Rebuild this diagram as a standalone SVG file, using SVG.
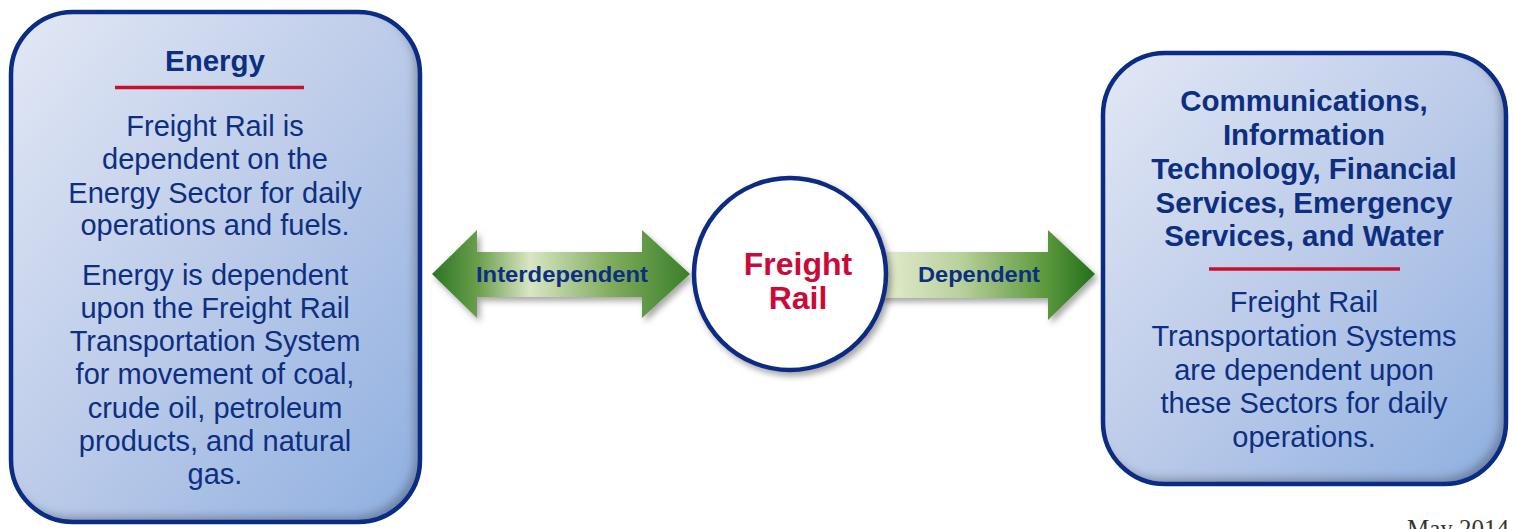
<svg xmlns="http://www.w3.org/2000/svg" width="1514" height="529" viewBox="0 0 1514 529">
<defs>
<linearGradient id="boxFill" x1="0" y1="0" x2="1" y2="1">
<stop offset="0" stop-color="#e2e8f5"/>
<stop offset="0.5" stop-color="#bccbe9"/>
<stop offset="1" stop-color="#8eafe0"/>
</linearGradient>
<linearGradient id="gLeft" x1="432" y1="0" x2="690" y2="0" gradientUnits="userSpaceOnUse">
<stop offset="0" stop-color="#2b7622"/>
<stop offset="0.18" stop-color="#6b9f4c"/>
<stop offset="0.38" stop-color="#d9e6c4"/>
<stop offset="0.7" stop-color="#7fab5c"/>
<stop offset="1" stop-color="#3a7f28"/>
</linearGradient>
<linearGradient id="gRight" x1="888" y1="0" x2="1095" y2="0" gradientUnits="userSpaceOnUse">
<stop offset="0" stop-color="#e0e9cb"/>
<stop offset="0.35" stop-color="#b9d19c"/>
<stop offset="0.75" stop-color="#5f9a3f"/>
<stop offset="1" stop-color="#22701b"/>
</linearGradient>
<filter id="inner" x="-5%" y="-5%" width="110%" height="110%">
<feGaussianBlur in="SourceAlpha" stdDeviation="4" result="blur"/>
<feOffset in="blur" dx="-6" dy="-6" result="off"/>
<feComposite in="SourceAlpha" in2="off" operator="out" result="mask"/>
<feFlood flood-color="#4a5060" flood-opacity="0.6"/>
<feComposite in2="mask" operator="in" result="shadow"/>
<feMerge><feMergeNode in="SourceGraphic"/><feMergeNode in="shadow"/></feMerge>
</filter>
<filter id="drop" x="-20%" y="-20%" width="140%" height="140%">
<feDropShadow dx="3" dy="4" stdDeviation="3" flood-color="#000" flood-opacity="0.35"/>
</filter>
</defs>
<style>
.box{fill:url(#boxFill);filter:url(#inner)}
.edge{fill:none;stroke:#0a2c84;stroke-width:4.5}
.t{font-family:"Liberation Sans",Arial,sans-serif;fill:#0d2f82;text-anchor:middle;font-size:29px}
.b{font-weight:bold;font-size:29.5px}
.red{stroke:#c8102e;stroke-width:3.5}
.lbl{font-family:"Liberation Sans",Arial,sans-serif;font-weight:bold;fill:#0d2f82;text-anchor:middle;font-size:22px}
</style>
<g id="connectors">
<polygon filter="url(#drop)" fill="url(#gLeft)" points="432,274 477,230 477,252 642,252 642,230 690,274 642,318 642,297 477,297 477,318"/>
<polygon filter="url(#drop)" fill="url(#gRight)" points="880,252 1048,252 1048,230 1095,274 1048,320 1048,298 880,298"/>
<text class="lbl" x="562" y="282" textLength="172" lengthAdjust="spacingAndGlyphs">Interdependent</text>
<text class="lbl" x="979" y="282" textLength="122" lengthAdjust="spacingAndGlyphs">Dependent</text>
</g>
<g id="energy">
<rect class="box" x="11" y="12" width="409" height="510" rx="62"/>
<rect class="edge" x="11" y="12" width="409" height="510" rx="62"/>
<text class="t b" x="215" y="71">Energy</text>
<line class="red" x1="115" y1="87.5" x2="304" y2="87.5"/>
<text class="t"><tspan x="215" y="136">Freight Rail is</tspan><tspan x="215" y="169">dependent on the</tspan><tspan x="215" y="203">Energy Sector for daily</tspan><tspan x="215" y="235">operations and fuels.</tspan><tspan x="215" y="285">Energy is dependent</tspan><tspan x="215" y="318">upon the Freight Rail</tspan><tspan x="215" y="351">Transportation System</tspan><tspan x="215" y="384">for movement of coal,</tspan><tspan x="215" y="418">crude oil, petroleum</tspan><tspan x="215" y="451">products, and natural</tspan><tspan x="215" y="484">gas.</tspan></text>
</g>
<g id="freight-rail">
<circle cx="790" cy="274" r="96" fill="#fff" stroke="#0a2c84" stroke-width="4.5" filter="url(#drop)"/>
<text x="798" y="275" font-family="Liberation Sans, Arial, sans-serif" font-weight="bold" font-size="32" fill="#cc0a3a" text-anchor="middle">Freight</text>
<text x="798" y="309" font-family="Liberation Sans, Arial, sans-serif" font-weight="bold" font-size="32" fill="#cc0a3a" text-anchor="middle">Rail</text>
</g>
<g id="communications">
<rect class="box" x="1103" y="53" width="403" height="431" rx="62"/>
<rect class="edge" x="1103" y="53" width="403" height="431" rx="62"/>
<text class="t b"><tspan x="1304" y="111">Communications,</tspan><tspan x="1304" y="145">Information</tspan><tspan x="1304" y="179">Technology, Financial</tspan><tspan x="1304" y="213">Services, Emergency</tspan><tspan x="1304" y="246">Services, and Water</tspan></text>
<line class="red" x1="1209" y1="269" x2="1400" y2="269"/>
<text class="t"><tspan x="1304" y="312">Freight Rail</tspan><tspan x="1304" y="346">Transportation Systems</tspan><tspan x="1304" y="380">are dependent upon</tspan><tspan x="1304" y="413">these Sectors for daily</tspan><tspan x="1304" y="447">operations.</tspan></text>
</g>
<text x="1407" y="537" font-family="Liberation Serif, Times New Roman, serif" font-size="25" fill="#333">May 2014</text>
</svg>
